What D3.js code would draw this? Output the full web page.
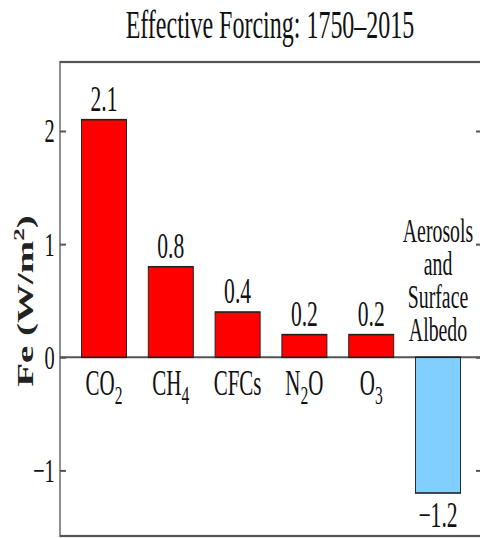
<!DOCTYPE html>
<html>
<head>
<meta charset="utf-8">
<script src="https://cdn.jsdelivr.net/npm/d3@7"></script>
<style>
html,body{margin:0;padding:0;background:#fff;}
svg{display:block;}
</style>
</head>
<body>
<svg id="chart" width="480" height="538"></svg>
<script>
// ---- data ----
const title = "Effective Forcing: 1750\u20132015";
const categories = ["CO2", "CH4", "CFCs", "N2O", "O3", "Aerosols and Surface Albedo"];
const values = [2.1, 0.8, 0.4, 0.2, 0.2, -1.2];
const valueLabels = ["2.1", "0.8", "0.4", "0.2", "0.2", "\u22121.2"];
const catBase = ["CO", "CH", "CFCs", "N", "O"];
const catSub = ["2", "4", "", "2", "3"];
const catTail = ["", "", "", "O", ""];
const aerosolLines = ["Aerosols", "and", "Surface", "Albedo"];
const barColors = ["#ff0000", "#ff0000", "#ff0000", "#ff0000", "#ff0000", "#80cfff"];
const yTicks = [-1, 0, 1, 2];
const yTickLabels = ["\u22121", "0", "1", "2"];

// ---- layout ----
const sx = 0.6; // horizontal compression of the whole figure
const font = "'Liberation Serif','Times New Roman',Times,serif";
const svg = d3.select("#chart");
const g = svg.append("g").attr("transform", `scale(${sx},1)`);

const frameL = 60 / sx, frameR = 482 / sx, frameT = 62, frameB = 536;

const x = d3.scaleBand().domain(categories)
  .range([70.6 / sx, 471.4 / sx]).paddingInner(0.326).paddingOuter(0.163);
const y = d3.scaleLinear().domain([-1.58, 2.61]).range([frameB, frameT]);

// title
g.append("text").attr("x", 270 / sx).attr("y", 38)
  .attr("text-anchor", "middle").attr("font-family", font).attr("font-size", 40)
  .attr("fill", "#111").text(title);

// zero line
g.append("line").attr("x1", frameL).attr("x2", frameR)
  .attr("y1", y(0)).attr("y2", y(0)).attr("stroke", "#555").attr("stroke-width", 2);

// bars
g.selectAll("rect.bar").data(categories).join("rect").attr("class", "bar")
  .attr("x", d => x(d)).attr("width", x.bandwidth())
  .attr("y", (d, i) => y(Math.max(0, values[i])))
  .attr("height", (d, i) => Math.abs(y(values[i]) - y(0)))
  .attr("fill", (d, i) => barColors[i]).attr("stroke", "#222").attr("stroke-width", 1.6);

// value labels
g.selectAll("text.val").data(categories).join("text").attr("class", "val")
  .attr("x", d => x(d) + x.bandwidth() / 2)
  .attr("y", (d, i) => values[i] >= 0 ? y(values[i]) - 9 : y(values[i]) + 34)
  .attr("text-anchor", "middle").attr("font-family", font).attr("font-size", 36)
  .attr("fill", "#111").text((d, i) => valueLabels[i]);

// category labels (below zero line)
catBase.forEach((b, i) => {
  const t = g.append("text").attr("x", x(categories[i]) + x.bandwidth() / 2).attr("y", 395)
    .attr("text-anchor", "middle").attr("font-family", font).attr("font-size", 35).attr("fill", "#111");
  t.append("tspan").text(b);
  if (catSub[i]) t.append("tspan").attr("font-size", 26).attr("dy", 9).text(catSub[i]);
  if (catTail[i]) t.append("tspan").attr("dy", -9).text(catTail[i]);
});

// aerosols label (above zero line)
const ax = x(categories[5]) + x.bandwidth() / 2;
aerosolLines.forEach((s, j) => {
  g.append("text").attr("x", ax).attr("y", 242 + j * 33)
    .attr("text-anchor", "middle").attr("font-family", font).attr("font-size", 33)
    .attr("fill", "#111").text(s);
});

// axes
const yAxis = d3.axisLeft(y).tickValues(yTicks)
  .tickFormat((d, i) => yTickLabels[i]).tickSizeInner(-10).tickSizeOuter(0).tickPadding(9);
const ga = g.append("g").attr("transform", `translate(${frameL},0)`).call(yAxis);
ga.select(".domain").remove();
ga.selectAll("line").attr("stroke", "#555").attr("stroke-width", 2);
ga.selectAll("text").attr("font-family", font).attr("font-size", 34).attr("fill", "#111");

const yAxisR = d3.axisRight(y).tickValues(yTicks).tickFormat("").tickSizeInner(-10).tickSizeOuter(0);
const gr = g.append("g").attr("transform", `translate(${frameR},0)`).call(yAxisR);
gr.select(".domain").remove();
gr.selectAll("line").attr("stroke", "#555").attr("stroke-width", 2);

// frame
g.append("rect").attr("x", frameL).attr("y", frameT).attr("width", frameR - frameL).attr("height", frameB - frameT)
  .attr("fill", "none").attr("stroke", "#555").attr("stroke-width", 2.2);

// y label
const yl = g.append("text").attr("transform", `translate(${33 / sx},301) rotate(-90)`)
  .attr("text-anchor", "middle").attr("font-family", font).attr("font-size", 39)
  .attr("font-weight", "bold").attr("fill", "#222");
yl.append("tspan").text("Fe (W/m");
yl.append("tspan").attr("font-size", 25).attr("dy", -15).text("2");
yl.append("tspan").attr("dy", 15).text(")");
</script>
</body>
</html>
